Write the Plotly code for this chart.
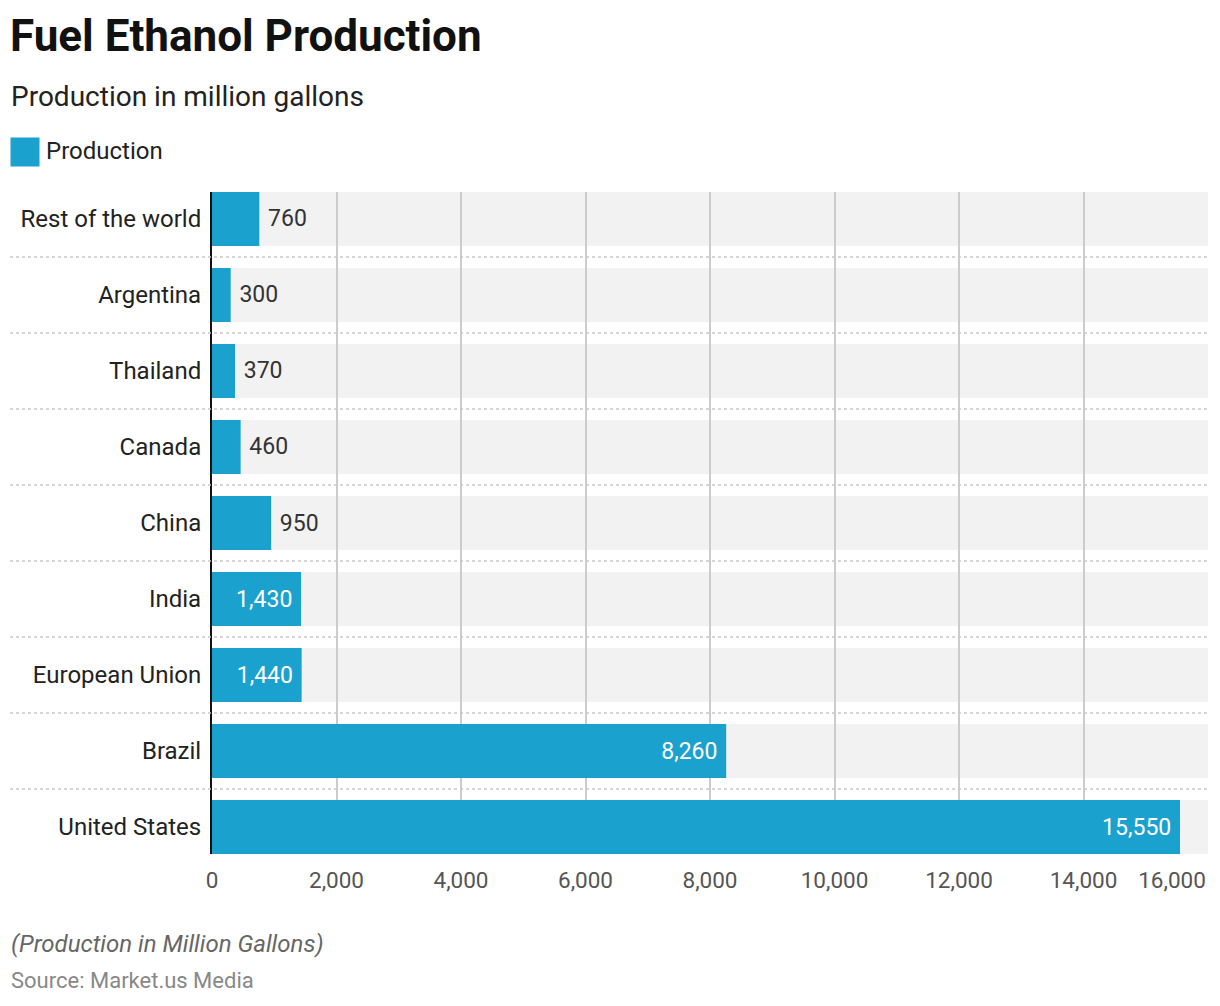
import plotly.graph_objects as go

categories = ["Rest of the world", "Argentina", "Thailand", "Canada", "China",
              "India", "European Union", "Brazil", "United States"]
production = [760, 300, 370, 460, 950, 1430, 1440, 8260, 15550]
x_tickvals = [0, 2000, 4000, 6000, 8000, 10000, 12000, 14000, 16000]
x_ticktext = ["0", "2,000", "4,000", "6,000", "8,000", "10,000", "12,000", "14,000", "16,000"]

title = "Fuel Ethanol Production"
subtitle = "Production in million gallons"
series_name = "Production"
note = "(Production in Million Gallons)"
source = "Source: Market.us Media"

BAR = "#1ba1cd"
BAND = "#f2f2f2"
FONT = "Roboto"
O = 8  # page body margin
W, H = 1220 - O, 1006 - O
L, R, T, B = 212 - O, 12, 192 - O, 152
PW, PH = W - L - R, H - T - B
HALF = 0.355
NB = "\u00a0"

def px_x(px):
    return (px - O - L) / PW

def px_y(py):
    return (H - B - (py - O)) / PH

inside = [v >= 1000 for v in production]
labels = [(f"{v:,}" + NB) if ins else (NB + f"{v:,}") for v, ins in zip(production, inside)]

fig = go.Figure()
fig.add_trace(go.Bar(
    y=categories, x=production, orientation="h", name=series_name,
    marker=dict(color=BAR, line=dict(width=0)), width=2 * HALF,
    text=labels, textposition=["inside" if i else "outside" for i in inside],
    insidetextanchor="end", constraintext="none",
    insidetextfont=dict(color="white", size=23, family=FONT),
    outsidetextfont=dict(color="#333333", size=23, family=FONT),
    cliponaxis=False, showlegend=False,
))
# invisible trace so the overlaying axis for the last tick label is drawn
fig.add_trace(go.Scatter(x=[x_tickvals[-1]], y=[categories[0]], xaxis="x2", mode="markers",
                         marker=dict(opacity=0), hoverinfo="skip", showlegend=False))

shapes = []
n = len(categories)
for i in range(n):
    shapes.append(dict(type="rect", xref="paper", yref="y", x0=0, x1=1,
                       y0=i - HALF, y1=i + HALF, fillcolor=BAND, line=dict(width=0), layer="below"))
for i in range(n - 1):
    shapes.append(dict(type="line", xref="paper", yref="y", x0=px_x(10), x1=1,
                       y0=i + 0.5, y1=i + 0.5, line=dict(color="#c8c8c8", width=1.5, dash="dot"), layer="above"))

annotations = [
    dict(text=f"<b>{title}</b>", x=px_x(8), y=px_y(36), xref="paper", yref="paper",
         xanchor="left", yanchor="middle", showarrow=False, font=dict(size=44, color="#111111", family=FONT)),
    dict(text=subtitle, x=px_x(9), y=px_y(97), xref="paper", yref="paper",
         xanchor="left", yanchor="middle", showarrow=False, font=dict(size=28, color="#222222", family=FONT)),
    dict(text=" ", x=px_x(10), y=px_y(152), xref="paper", yref="paper", width=24, height=24,
         xanchor="left", yanchor="middle", showarrow=False, bgcolor=BAR, borderpad=2,
         font=dict(size=10)),
    dict(text=series_name, x=px_x(44), y=px_y(151), xref="paper", yref="paper",
         xanchor="left", yanchor="middle", showarrow=False, font=dict(size=24, color="#222222", family=FONT)),
    dict(text=f"<i>{note}</i>", x=px_x(9), y=px_y(944), xref="paper", yref="paper",
         xanchor="left", yanchor="middle", showarrow=False, font=dict(size=24, color="#666666", family=FONT)),
    dict(text=source, x=px_x(9), y=px_y(980), xref="paper", yref="paper",
         xanchor="left", yanchor="middle", showarrow=False, font=dict(size=22, color="#888888", family=FONT)),
]

tickfont_x = dict(size=22.5, color="#555555", family=FONT)
fig.update_layout(
    width=W, height=H, margin=dict(l=L, r=R, t=T, b=B, autoexpand=False),
    paper_bgcolor="white", plot_bgcolor="rgba(0,0,0,0)",
    font=dict(family=FONT), barmode="overlay", showlegend=False,
    shapes=shapes, annotations=annotations,
    xaxis=dict(range=[0, 16000], tickvals=x_tickvals[:-1], ticktext=x_ticktext[:-1],
               showgrid=True, gridcolor="#cccccc", gridwidth=1.5, zeroline=False,
               showline=False, ticks="", ticklabelstandoff=10,
               tickfont=tickfont_x, fixedrange=True),
    xaxis2=dict(range=[0, 16000], overlaying="x", side="bottom", anchor="y",
                tickvals=x_tickvals[-1:], ticktext=x_ticktext[-1:],
                showgrid=True, gridcolor="#cccccc", gridwidth=1.5, zeroline=False,
                showline=False, ticks="", ticklabelstandoff=10, ticklabelshift=-36,
                tickfont=tickfont_x, fixedrange=True),
    yaxis=dict(type="category", categoryorder="array", categoryarray=categories,
               range=[n - 1 + HALF, -HALF], showgrid=False, zeroline=False,
               showline=True, linecolor="#111111", linewidth=2, ticks="",
               ticklabelstandoff=4, tickfont=dict(size=24, color="#222222", family=FONT), fixedrange=True),
)

fig.write_html("out.html")
